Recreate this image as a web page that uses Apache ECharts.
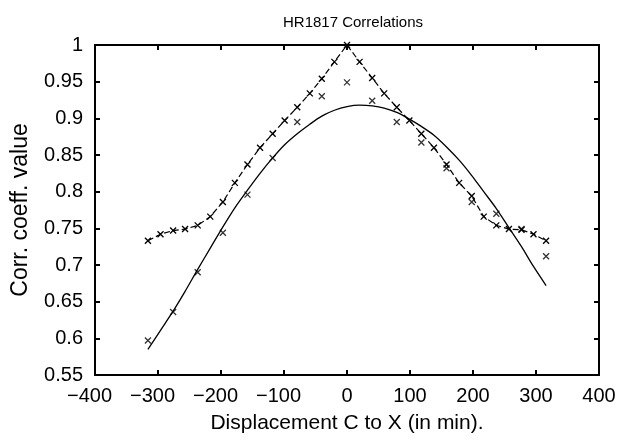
<!DOCTYPE html>
<html>
<head>
<meta charset="utf-8">
<script src="https://cdn.jsdelivr.net/npm/echarts@6/dist/echarts.min.js"></script>
<style>html,body{margin:0;padding:0;background:#fff;}#c{width:619px;height:442px;}</style>
</head>
<body>
<div id="c"></div>
<script>
const titleText = 'HR1817 Correlations';
const xName = 'Displacement C to X (in min).';
const yName = 'Corr. coeff. value';

const upperX = [-316,-296,-276,-257,-237,-217,-197,-178,-158,-138,-118,-99,-79,-59,-40,-20,0,20,40,59,79,99,118,138,158,178,198,217,237,257,277,296,316];
const upperY = [0.733,0.742,0.747,0.749,0.754,0.766,0.786,0.812,0.837,0.860,0.879,0.897,0.915,0.934,0.954,0.977,1.0,0.977,0.955,0.934,0.915,0.897,0.879,0.860,0.837,0.812,0.794,0.766,0.754,0.749,0.748,0.742,0.733];

const lowerX = [-316,-276,-237,-197,-158,-118,-79,-40,0,40,79,118,158,198,237,277,316];
const lowerY = [0.597,0.636,0.690,0.744,0.796,0.846,0.895,0.930,0.949,0.924,0.895,0.867,0.832,0.786,0.770,0.749,0.712];

const fitX = [-316,-296,-276,-257,-237,-217,-197,-178,-158,-138,-118,-99,-79,-59,-40,-20,0,20,40,59,79,99,118,138,158,178,198,217,237,257,277,296,316];
const fitY = [0.585,0.611,0.637,0.664,0.694,0.723,0.752,0.778,0.802,0.825,0.846,0.864,0.879,0.892,0.903,0.911,0.916,0.918,0.917,0.914,0.908,0.899,0.889,0.877,0.861,0.843,0.822,0.800,0.777,0.751,0.725,0.698,0.672];

const pair = (xs, ys) => xs.map((x, i) => [x, ys[i]]);
const font = 'Liberation Sans, Arial, sans-serif';
const crossPath = 'path://M0,0L10,10M10,0L0,10';

const chart = echarts.init(document.getElementById('c'), null, {renderer: 'canvas'});
const axisLine = {show: true, onZero: false, lineStyle: {color: '#000', width: 2}};
const tick = {show: true, inside: true, length: 5, lineStyle: {color: '#000', width: 2}};
chart.setOption({
  animation: false,
  backgroundColor: '#fff',
  title: {
    text: titleText, left: 348, top: 10, textAlign: 'center',
    textStyle: {fontFamily: font, fontSize: 15, fontWeight: 'normal', color: '#000'}
  },
  grid: {left: 95, right: 20, top: 45, bottom: 67},
  xAxis: [{
    type: 'value', min: -400, max: 400, interval: 100,
    name: xName, nameLocation: 'middle', nameGap: 38,
    nameTextStyle: {fontFamily: font, fontSize: 21, color: '#000'},
    axisLine: axisLine, axisTick: tick,
    axisLabel: {fontFamily: font, fontSize: 20, color: '#000', margin: 11,
      formatter: v => v < 0 ? '{n|\u2212' + Math.abs(v) + '}' : String(v),
      rich: {n: {fontFamily: font, fontSize: 20, color: '#000', padding: [0, 11, 0, 0]}}},
    splitLine: {show: false}
  }, {
    type: 'value', min: -400, max: 400, interval: 100, position: 'top',
    axisLine: axisLine, axisTick: tick,
    axisLabel: {show: false}, splitLine: {show: false}
  }],
  yAxis: [{
    type: 'value', min: 0.55, max: 1, interval: 0.05,
    name: yName, nameLocation: 'middle', nameGap: 63, nameRotate: 90,
    nameTextStyle: {fontFamily: font, fontSize: 23, color: '#000'},
    axisLine: axisLine, axisTick: tick,
    axisLabel: {fontFamily: font, fontSize: 20, color: '#000', margin: 12},
    splitLine: {show: false}
  }, {
    type: 'value', min: 0.55, max: 1, interval: 0.05, position: 'right',
    axisLine: axisLine, axisTick: tick,
    axisLabel: {show: false}, splitLine: {show: false}
  }],
  series: [{
    type: 'line', data: pair(fitX, fitY), smooth: 0.3, showSymbol: false,
    lineStyle: {color: '#000', width: 1.3}
  }, {
    type: 'line', data: pair(upperX, upperY), symbol: crossPath, symbolSize: 6,
    lineStyle: {color: '#000', width: 1.2, type: [6, 3]},
    itemStyle: {color: 'none', borderColor: '#000', borderWidth: 1.3}
  }, {
    type: 'scatter', data: pair(lowerX, lowerY), symbol: crossPath, symbolSize: 6,
    itemStyle: {color: 'none', borderColor: '#000', borderWidth: 1.3}
  }]
});
</script>
</body>
</html>
